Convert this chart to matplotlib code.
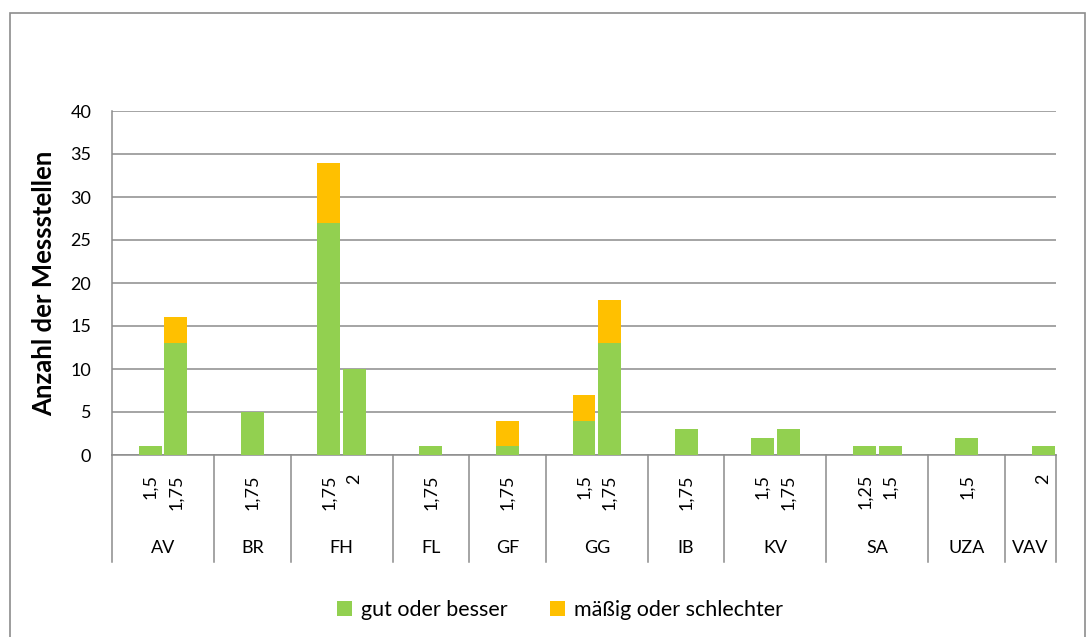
import matplotlib
matplotlib.use('Agg')
import matplotlib.pyplot as plt
from matplotlib.patches import Rectangle

plt.rcParams['font.family'] = ['Lato', 'DejaVu Sans']

# Gruppen, Unterkategorien und Anzahl der Messstellen
groups = ['AV', 'BR', 'FH', 'FL', 'GF', 'GG', 'IB', 'KV', 'SA', 'UZA', 'VAV']
subcats = [['1,5', '1,75'], ['1,75'], ['1,75', '2'], ['1,75'], ['1,75'],
           ['1,5', '1,75'], ['1,75'], ['1,5', '1,75'], ['1,25', '1,5'],
           ['1,5'], ['2']]
good = [[1, 13], [5], [27, 10], [1], [1], [4, 13], [3], [2, 3], [1, 1], [2], [1]]
poor = [[0, 3], [0], [7, 0], [0], [3], [3, 5], [0], [0, 0], [0, 0], [0], [0]]

GREEN = '#92D050'
ORANGE = '#FFC000'
GRID = '#8C8C8C'
FS = 13

W, H = 1088, 637
fig = plt.figure(figsize=(W / 100, H / 100), dpi=100)
fig.patches.append(Rectangle((10 / W, -0.01), 1075 / W, 1 - 13 / H + 0.01,
                             transform=fig.transFigure, fill=False,
                             edgecolor='#8C8C8C', linewidth=1.2))

x0, x1, ytop, ybot = 112, 1056, 111, 455
ax = fig.add_axes([x0 / W, 1 - ybot / H, (x1 - x0) / W, (ybot - ytop) / H])

# Positionen: je Gruppe eine leere Stelle davor und danach (außer am Ende)
xs, g_vals, p_vals, s_labels, bounds, centers = [], [], [], [], [0], []
pos = 0
for i, g in enumerate(groups):
    start = pos
    pos += 1
    for lab, gv, pv in zip(subcats[i], good[i], poor[i]):
        xs.append(pos + 0.5)
        g_vals.append(gv)
        p_vals.append(pv)
        s_labels.append(lab)
        pos += 1
    if i < len(groups) - 1:
        pos += 1
    bounds.append(pos)
    centers.append((start + pos) / 2)
total = pos

bw = 0.9
ax.bar(xs, g_vals, width=bw, color=GREEN, label='gut oder besser', zorder=3)
ax.bar(xs, p_vals, width=bw, bottom=g_vals, color=ORANGE,
       label='mäßig oder schlechter', zorder=3)

ax.set_xlim(0, total)
ax.set_ylim(0, 40)
ax.set_yticks(range(0, 41, 5))
ax.tick_params(axis='y', length=0, labelsize=FS, pad=15)
ax.set_xticks([])
ax.yaxis.grid(True, color=GRID, linewidth=1.1, zorder=0)
for s in ['top', 'right']:
    ax.spines[s].set_visible(False)
ax.spines['left'].set_color(GRID)
ax.spines['bottom'].set_color(GRID)
ax.spines['left'].set_linewidth(1.1)
ax.spines['bottom'].set_linewidth(1.1)
ax.set_ylabel('Anzahl der Messstellen', fontsize=18.5, fontweight='bold', labelpad=10)

# Kategorienachse mit zwei Ebenen
trans = ax.get_xaxis_transform()
px = 1 / (ybot - ytop)
for b in bounds:
    ax.plot([b, b], [0, -(562 - ybot) * px], transform=trans, color=GRID,
            linewidth=1.1, clip_on=False)
for x, lab in zip(xs, s_labels):
    ax.text(x, -(474 - ybot) * px, lab, transform=trans, rotation=90,
            ha='center', va='top', fontsize=FS)
for c, g in zip(centers, groups):
    ax.text(c, -(548 - ybot) * px, g, transform=trans, ha='center',
            va='center', fontsize=FS)

fig.legend(loc='center', bbox_to_anchor=(560 / W, 1 - 610 / H), ncol=2,
           frameon=False, fontsize=15.5, handlelength=0.7, handleheight=0.7,
           handletextpad=0.4, columnspacing=2.0)

fig.savefig('out.png', dpi=100)
